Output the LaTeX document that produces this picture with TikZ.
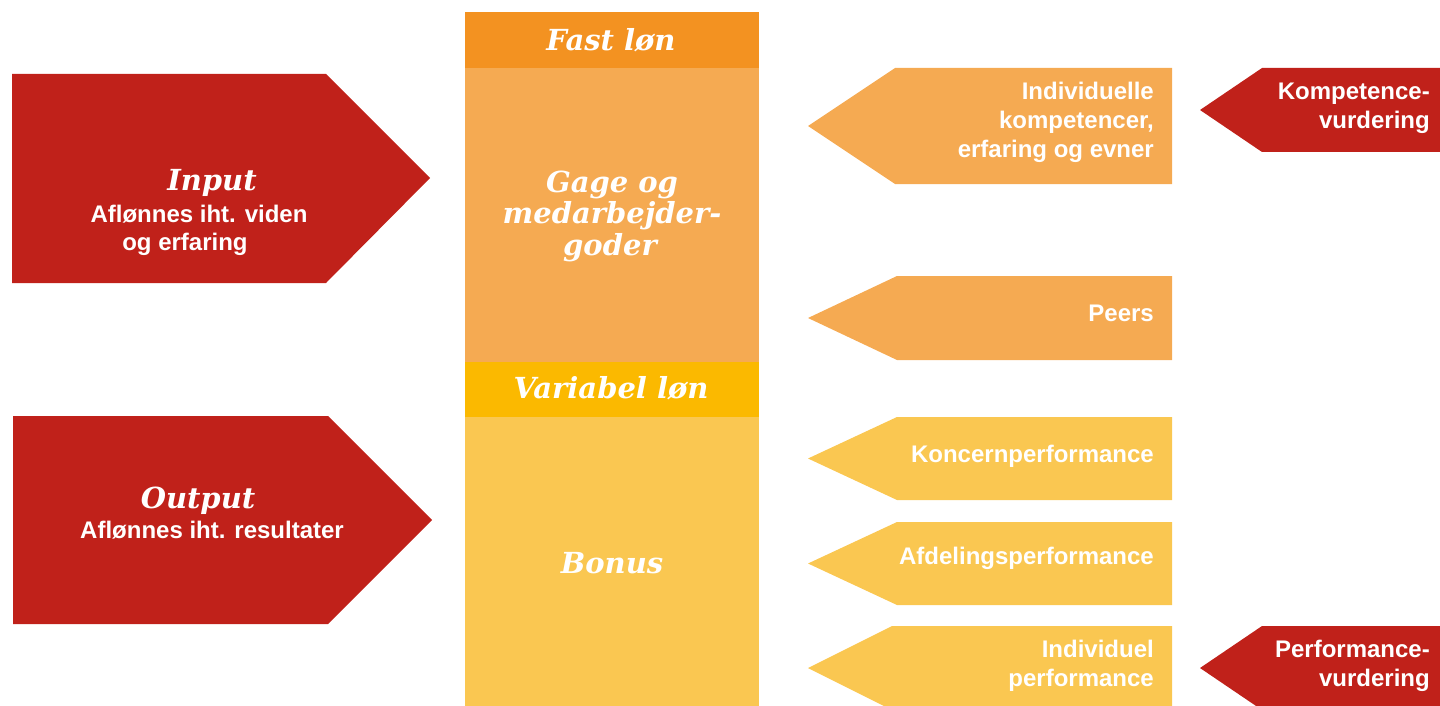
\documentclass[tikz,border=0pt]{standalone}
\usepackage{fontspec}
\setmainfont{Liberation Sans}
\newfontfamily\serf{DejaVu Serif}
\definecolor{pwcred}{HTML}{C0211A}
\definecolor{fastcol}{HTML}{F39221}
\definecolor{gagecol}{HTML}{F5AA52}
\definecolor{varcol}{HTML}{FBB900}
\definecolor{bonuscol}{HTML}{FAC751}
\tikzset{
  sanslbl/.style={text=white, font=\bfseries\fontsize{24}{29}\selectfont, inner sep=0pt},
  serlbl/.style={text=white, font=\serf\bfseries\itshape\fontsize{29}{32}\selectfont, inner sep=0pt},
}
\begin{document}
\begin{tikzpicture}[x=1pt,y=-1pt]
\path[use as bounding box] (0,0) rectangle (1440,706);
% left arrows
\fill[pwcred] (12,74) -- (326,74) -- (430,178) -- (326,283) -- (12,283) -- cycle;
\fill[pwcred] (13,416) -- (328,416) -- (432,520) -- (328,624) -- (13,624) -- cycle;
% central column
\fill[fastcol] (465,12) rectangle (759,68);
\fill[gagecol] (465,68) rectangle (759,362);
\fill[varcol] (465,362) rectangle (759,417);
\fill[bonuscol] (465,417) rectangle (759,706);
% right orange arrows
\fill[gagecol] (808,126) -- (895,68) -- (1172,68) -- (1172,184) -- (895,184) -- cycle;
\fill[gagecol] (808,318) -- (897,276) -- (1172,276) -- (1172,360) -- (897,360) -- cycle;
\fill[bonuscol] (808,458.5) -- (897,417) -- (1172,417) -- (1172,500) -- (897,500) -- cycle;
\fill[bonuscol] (808,563.5) -- (897,522) -- (1172,522) -- (1172,605) -- (897,605) -- cycle;
\fill[bonuscol] (808,668) -- (892,626) -- (1172,626) -- (1172,710) -- (892,710) -- cycle;
% right red arrows
\fill[pwcred] (1200,110) -- (1262,68) -- (1440,68) -- (1440,152) -- (1262,152) -- cycle;
\fill[pwcred] (1200,668) -- (1262,626) -- (1440,626) -- (1440,710) -- (1262,710) -- cycle;
% left texts
\node[serlbl, anchor=base] (inT) at (212,190) {Input};
\node[sanslbl, anchor=base] (in1) at (199,222) {Aflønnes iht. viden};
\node[sanslbl, anchor=base] (in2) at (185,250) {og erfaring};
\node[serlbl, anchor=base] (outT) at (198,508) {Output};
\node[sanslbl, anchor=base] (out1) at (212,538) {Aflønnes iht. resultater};
% column texts
\node[serlbl, anchor=base] (fast) at (611,51) {Fast løn};
\node[serlbl, anchor=base] (gage1) at (612,192) {Gage og};
\node[serlbl, anchor=base] (gage2) at (612,223.5) {medarbejder-};
\node[serlbl, anchor=base] (gage3) at (610,255) {goder};
\node[serlbl, anchor=base] (var) at (611,398) {Variabel løn};
\node[serlbl, anchor=base] (bonus) at (612,573) {Bonus};
% right orange texts
\node[sanslbl, anchor=base east] (ik1) at (1154,99.5) {Individuelle};
\node[sanslbl, anchor=base east] (ik2) at (1154,128.5) {kompetencer,};
\node[sanslbl, anchor=base east] (ik3) at (1154,157.5) {erfaring og evner};
\node[sanslbl, anchor=base east] (peers) at (1154,321.5) {Peers};
\node[sanslbl, anchor=base east] (koncern) at (1154,462.5) {Koncernperformance};
\node[sanslbl, anchor=base east] (afd) at (1154,564.5) {Afdelingsperformance};
\node[sanslbl, anchor=base east] (ip1) at (1154,657.5) {Individuel};
\node[sanslbl, anchor=base east] (ip2) at (1154,686.5) {performance};
% right red texts
\node[sanslbl, anchor=base east] (kv1) at (1430,99.5) {Kompetence-};
\node[sanslbl, anchor=base east] (kv2) at (1430,128.5) {vurdering};
\node[sanslbl, anchor=base east] (pv1) at (1430,657.5) {Performance-};
\node[sanslbl, anchor=base east] (pv2) at (1430,686.5) {vurdering};
\end{tikzpicture}
\end{document}
